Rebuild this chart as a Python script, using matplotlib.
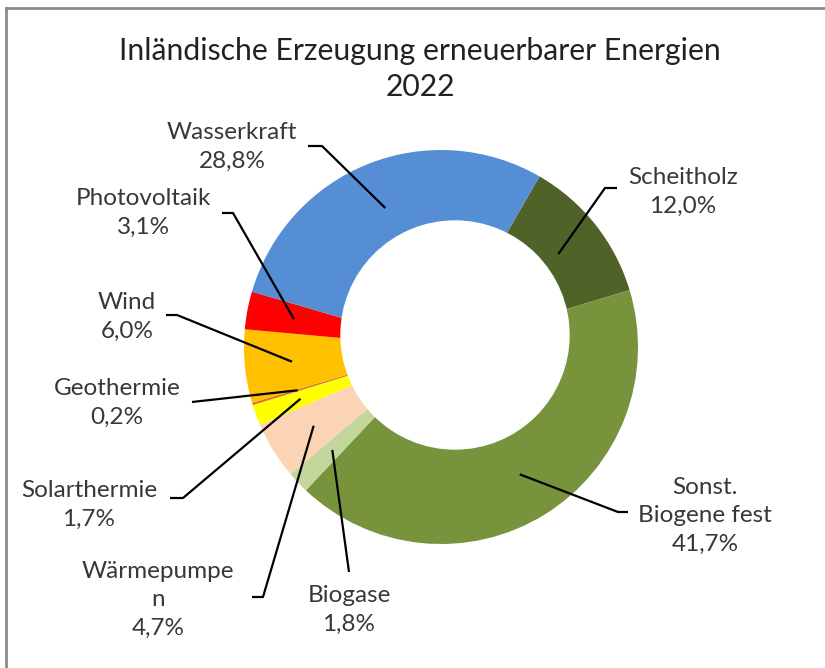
import matplotlib.pyplot as plt
import numpy as np
from matplotlib.patches import Circle
from matplotlib.lines import Line2D

plt.rcParams['font.family'] = ['Lato', 'DejaVu Sans']

# Daten (Anteile in %), im Uhrzeigersinn ab Scheitholz
names = ['Scheitholz', 'Sonst.\nBiogene fest', 'Biogase', 'Wärmepumpe\nn',
         'Solarthermie', 'Geothermie', 'Wind', 'Photovoltaik', 'Wasserkraft']
shares = [12.0, 41.7, 1.8, 4.7, 1.7, 0.2, 6.0, 3.1, 28.8]
colors = ['#4F6228', '#77933C', '#C3D69B', '#FBD4B6', '#FFFF00',
          '#D9782D', '#FFC000', '#FF0000', '#558ED5']

# Layout in Bildpixeln (Mitte Torte 441/347, Radius 197)
W, H = 825, 668
CX, CY, R = 441, 347, 197

def px(x, y):
    return (x - CX) / R, (CY - y) / R

# Label-Mittelpunkt und Knickpunkte der Führungslinien (Pixel)
label_pos = [(683, 192), (705, 516), (349, 610), (158, 600), (89, 505),
             (117, 403), (127, 317), (143, 213), (232, 147)]
leader_pts = [[(617, 188), (605, 188)],
              [(628, 512), (618, 512)],
              [(349, 572)],
              [(252, 597), (263, 597)],
              [(170, 498), (183, 498)],
              [(192, 402)],
              [(166, 315), (177, 315)],
              [(222, 213), (233, 213)],
              [(308, 146), (322, 146)]]

fig = plt.figure(figsize=(W / 100, H / 100), dpi=100)
ax = fig.add_axes([0, 0, 1, 1])

start = 60
wedges, _ = ax.pie(shares, colors=colors, startangle=start, counterclock=False,
                   radius=1.0, wedgeprops=dict(linewidth=0))

# Loch (leicht nach oben rechts versetzt wie im Original)
hx, hy = px(455, 335)
ax.add_patch(Circle((hx, hy), 114 / R, color='white', zorder=3))

total = sum(shares)
cum = np.cumsum([0] + shares[:-1])
for i, name in enumerate(names):
    mid = start - (cum[i] + shares[i] / 2) / total * 360
    ex, ey = 0.76 * np.cos(np.radians(mid)), 0.76 * np.sin(np.radians(mid))
    pts = [px(*p) for p in leader_pts[i]] + [(ex, ey)]
    xs, ys = zip(*pts)
    ax.plot(xs, ys, color='black', lw=1.6, zorder=4, solid_capstyle='butt')
    lx, ly = px(*label_pos[i])
    pct = f'{shares[i]:.1f}%'.replace('.', ',')
    ax.text(lx, ly, f'{name}\n{pct}',
            ha='center', va='center', fontsize=17.5, color='#383838',
            linespacing=1.45, zorder=5)

tx, ty = px(420, 69)
ax.text(tx, ty, 'Inländische Erzeugung erneuerbarer Energien\n2022',
        ha='center', va='center', fontsize=21.7, color='#222222', linespacing=1.38)

ax.set_xlim(-CX / R, (W - CX) / R)
ax.set_ylim((CY - H) / R, CY / R)
ax.set_aspect('equal', adjustable='box')
ax.axis('off')

# Rahmen des Diagrammbereichs (links und oben sichtbar)
fig.add_artist(Line2D([6 / W, 6 / W], [0, 1 - 8 / H], transform=fig.transFigure,
                      color='#8C8C8C', lw=2))
fig.add_artist(Line2D([6 / W, 1], [1 - 8 / H, 1 - 8 / H], transform=fig.transFigure,
                      color='#8C8C8C', lw=2))

fig.savefig('out.png', dpi=100, facecolor='white')
